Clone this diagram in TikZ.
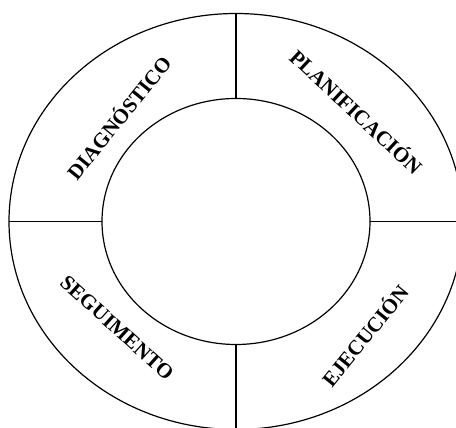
\documentclass[tikz,border=0pt]{standalone}
\usepackage{fontspec}
\setmainfont{Liberation Serif}
\usepackage{tikz}
\usetikzlibrary{calc}

\begin{document}
\begin{tikzpicture}[x=1pt, y=1pt, line width=1.2pt,
  etapa/.style={font=\bfseries\fontsize{21}{21}\selectfont, inner sep=0pt}]

\useasboundingbox (0,0) rectangle (456,428);
\clip (0,0) rectangle (456,428);

% centre of the cycle
\coordinate (c) at (236,206.5);

% outer and inner ring
\draw (c) ellipse [x radius=227, y radius=208];
\draw (c) ellipse [x radius=134, y radius=123];

% four dividers between the rings
\draw ($(c)+(0,208)$) -- ($(c)+(0,123)$);
\draw ($(c)+(0,-123)$) -- ($(c)+(0,-208)$);
\draw ($(c)+(-227,0)$) -- ($(c)+(-134,0)$);
\draw ($(c)+(134,0)$) -- ($(c)+(227,0)$);

% stage labels
\node[etapa, rotate=51] (diag) at (118,311) {DIAGNÓSTICO};
\node[etapa, rotate=-43] (plan) at (357,317) {PLANIFICACIÓN};
\node[etapa, rotate=-42] (segu) at (117,100) {SEGUIMENTO};
\node[etapa, rotate=51] (ejec) at (364,93) {EJECUCIÓN};

\end{tikzpicture}
\end{document}
